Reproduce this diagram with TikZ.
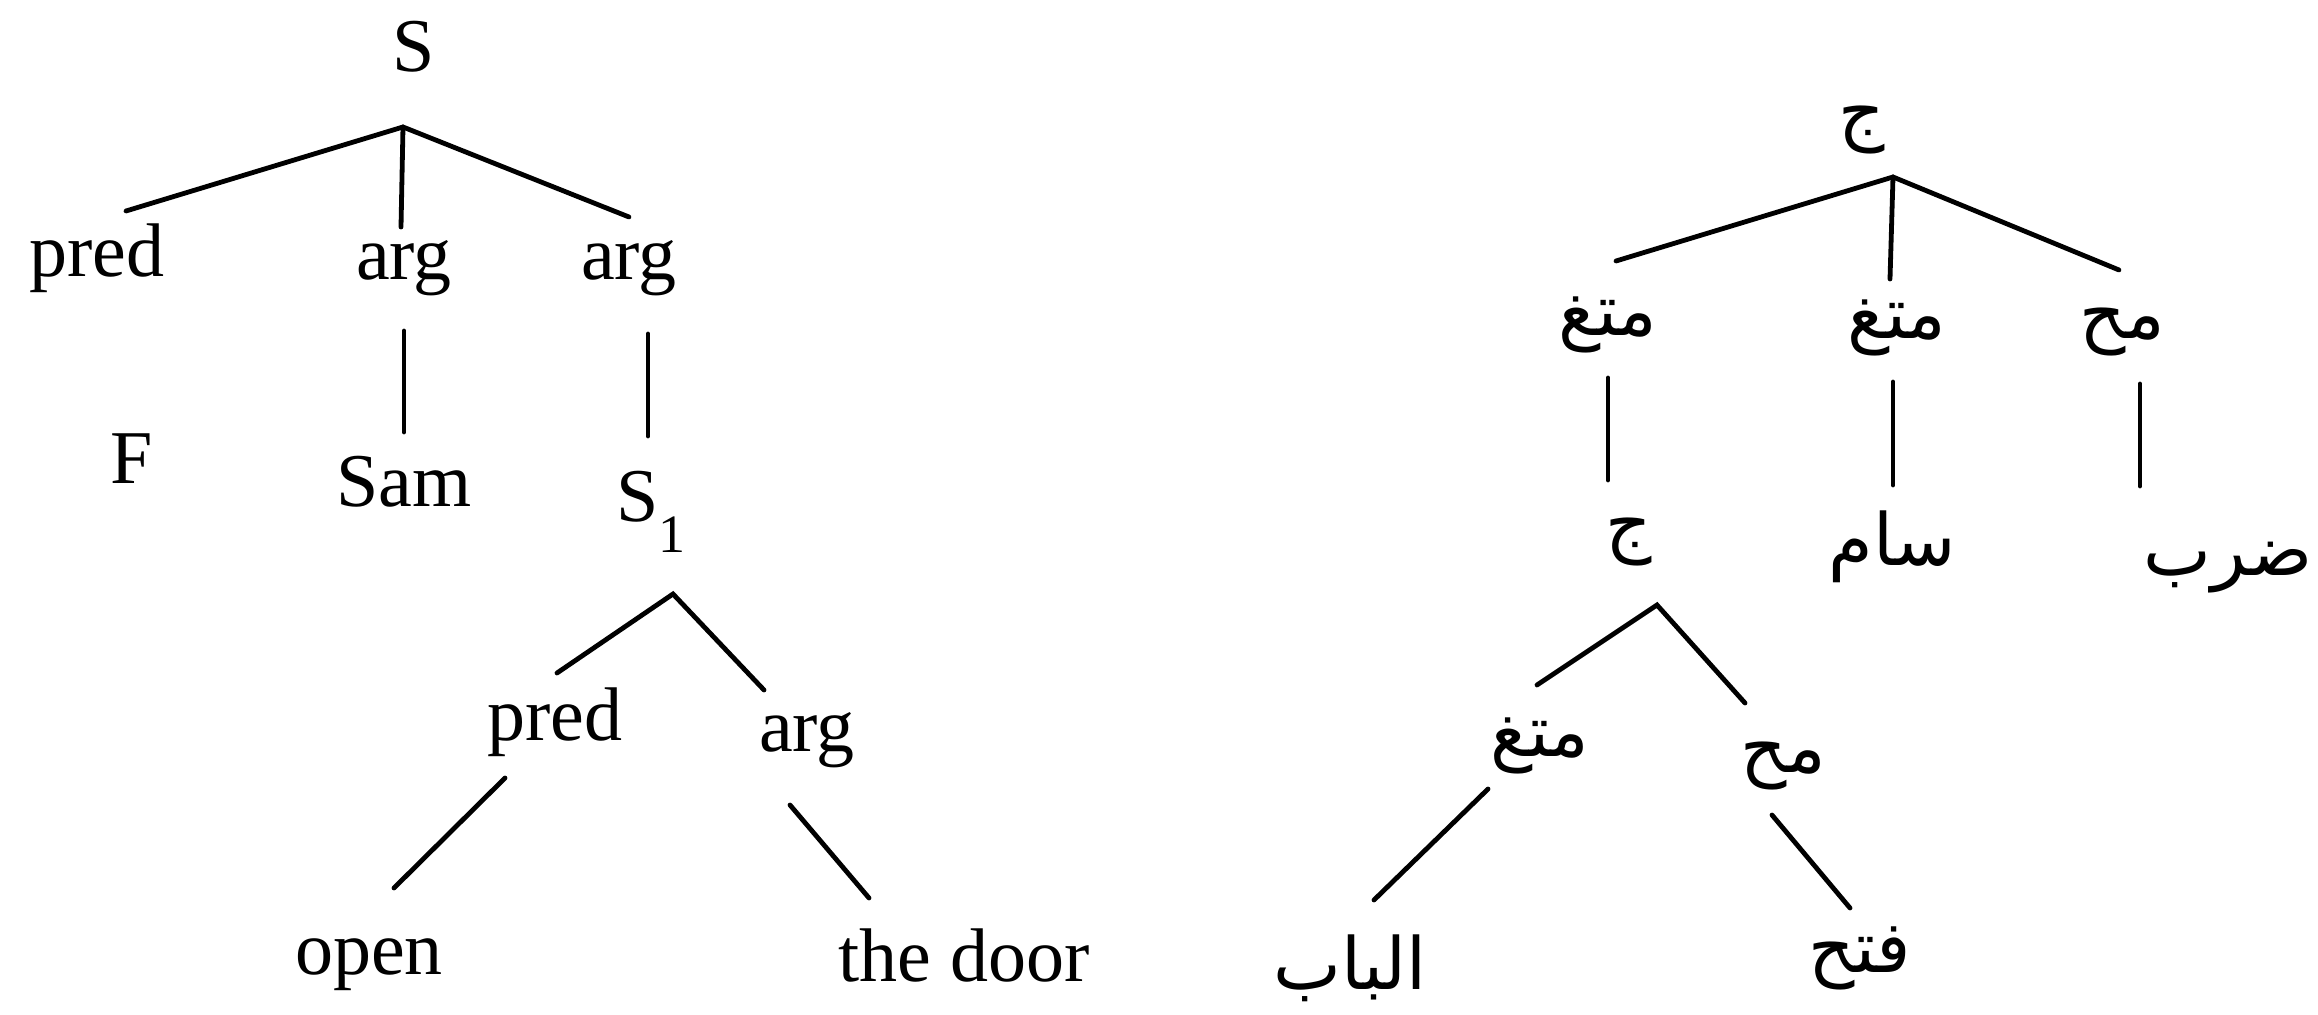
\documentclass[tikz,border=0pt]{standalone}
\usepackage{fontspec}
\setmainfont{Liberation Serif}
\newfontfamily\arabicfont[Script=Arabic]{DejaVu Sans}
\TeXXeTstate=1
\begin{document}
\begin{tikzpicture}[x=0.5pt,y=-0.5pt,
  lbl/.style={inner sep=0pt, font=\fontsize{38}{40}\selectfont, anchor=base},
  ar/.style={inner sep=0pt, font=\arabicfont\fontsize{36}{40}\selectfont, anchor=center},
  br/.style={line width=2.4pt, line cap=round}]
\useasboundingbox (0,0) rectangle (2318,1015);
% ---------------- left tree ----------------
\node[lbl] (S) at (414,72) {S};
\node[lbl] (pred1) at (97,277) {pred};
\node[lbl] (arg1) at (404,280) {arg};
\node[lbl] (arg2) at (629,280) {arg};
\node[lbl] (F) at (132,484) {F};
\node[lbl] (sam) at (404,507) {Sam};
\node[lbl,anchor=base west] (S1) at (616,522) {S\raisebox{-15.5pt}{\fontsize{27}{30}\selectfont 1}};
\node[lbl] (pred2) at (555,740) {pred};
\node[lbl] (arg3) at (807,751) {arg};
\node[lbl] (open) at (369,974) {open};
\node[lbl] (door) at (964,981) {the door};
\coordinate (a0) at (403,127);
\coordinate (e1) at (126,211);
\coordinate (e2) at (401,227);
\coordinate (e3) at (629,217);
\draw[br] (e1) -- (a0) -- (e3);
\draw[br] (a0) -- (e2);
\coordinate (v1t) at (404,331); \coordinate (v1b) at (404,432);
\coordinate (v2t) at (648,334); \coordinate (v2b) at (648,436);
\draw[br] (v1t) -- (v1b);
\draw[br] (v2t) -- (v2b);
\coordinate (a1) at (673,594);
\coordinate (e4) at (557,673);
\coordinate (e5) at (764,690);
\draw[br] (e4) -- (a1) -- (e5);
\coordinate (l1t) at (505,778); \coordinate (l1b) at (394,888);
\coordinate (l2t) at (790,805); \coordinate (l2b) at (869,898);
\draw[br] (l1t) -- (l1b);
\draw[br] (l2t) -- (l2b);
% ---------------- right tree ----------------
\node[ar] (J) at (1862,130) {\beginR ج\endR};
\node[ar] (mt1) at (1608,325) {\beginR متغ\endR};
\node[ar] (mt2) at (1897,328) {\beginR متغ\endR};
\node[ar] (mh1) at (2122,332) {\beginR مح\endR};
\node[ar] (J2) at (1629,542) {\beginR ج\endR};
\node[ar] (saam) at (1892,547) {\beginR سام\endR};
\node[ar] (darab) at (2228,568) {\beginR ضرب\endR};
\node[ar] (mt3) at (1540,746) {\beginR متغ\endR};
\node[ar] (mh2) at (1783,766) {\beginR مح\endR};
\node[ar] (bab) at (1350,968) {\beginR الباب\endR};
\node[ar] (fath) at (1860,958) {\beginR فتح\endR};
\coordinate (b0) at (1893,177);
\coordinate (f1) at (1616,261);
\coordinate (f2) at (1890,279);
\coordinate (f3) at (2119,270);
\draw[br] (f1) -- (b0) -- (f3);
\draw[br] (b0) -- (f2);
\coordinate (w1t) at (1608,378); \coordinate (w1b) at (1608,480);
\coordinate (w2t) at (1893,382); \coordinate (w2b) at (1893,485);
\coordinate (w3t) at (2140,384); \coordinate (w3b) at (2140,486);
\draw[br] (w1t) -- (w1b);
\draw[br] (w2t) -- (w2b);
\draw[br] (w3t) -- (w3b);
\coordinate (b1) at (1657,605);
\coordinate (f4) at (1537,685);
\coordinate (f5) at (1745,703);
\draw[br] (f4) -- (b1) -- (f5);
\coordinate (m1t) at (1488,789); \coordinate (m1b) at (1374,900);
\coordinate (m2t) at (1772,815); \coordinate (m2b) at (1850,908);
\draw[br] (m1t) -- (m1b);
\draw[br] (m2t) -- (m2b);
\end{tikzpicture}
\end{document}
